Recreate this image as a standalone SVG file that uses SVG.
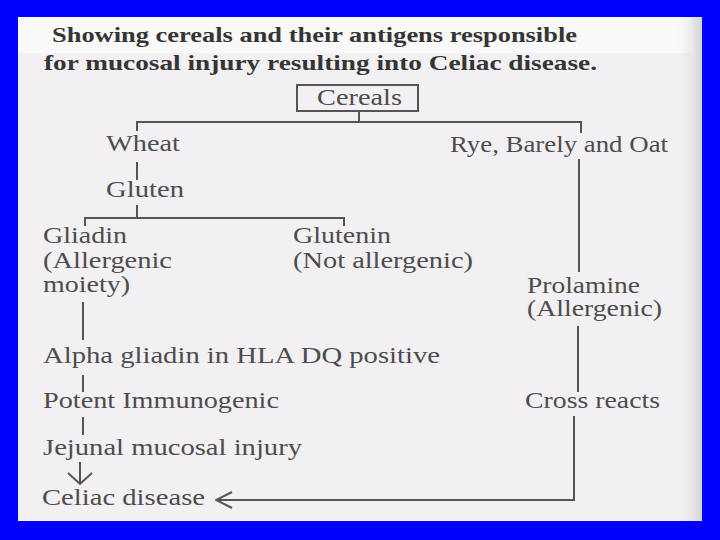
<svg xmlns="http://www.w3.org/2000/svg" width="720" height="540" viewBox="0 0 720 540">
<defs>
<linearGradient id="edge" x1="0" y1="0" x2="1" y2="0">
<stop offset="0" stop-color="#f2f0f3" stop-opacity="0"/>
<stop offset="1" stop-color="#d6d3d7"/>
</linearGradient>
<marker id="chev" viewBox="0 0 20 20" refX="19" refY="10" markerWidth="20" markerHeight="20" markerUnits="userSpaceOnUse" orient="auto">
<path d="M3,2 L19,10 L3,18" fill="none" stroke="#555" stroke-width="2"/>
</marker>
<marker id="chevD" viewBox="0 0 24 28" refX="22" refY="14" markerWidth="24" markerHeight="28" markerUnits="userSpaceOnUse" orient="auto">
<path d="M11,2 L22,14 L11,26" fill="none" stroke="#555" stroke-width="2"/>
</marker>
</defs>
<style>
text{font-family:"Liberation Serif","Times New Roman",serif;fill:#4d4d4d;font-size:23px}
.t{font-weight:bold;fill:#353535;font-size:22px}
.c{fill:none;stroke:#555;stroke-width:2}
</style>
<rect x="0" y="0" width="720" height="540" fill="#0000ff"/>
<rect x="18" y="17" width="684" height="504" fill="#f2f0f3"/>
<rect x="18" y="17" width="676" height="36" fill="#f9f9f9"/>
<rect x="676" y="17" width="26" height="504" fill="url(#edge)"/>
<g id="title">
<text class="t" x="52" y="42" textLength="525" lengthAdjust="spacingAndGlyphs">Showing cereals and their antigens responsible</text>
<text class="t" x="44" y="70" textLength="553" lengthAdjust="spacingAndGlyphs">for mucosal injury resulting into Celiac disease.</text>
</g>
<g id="connectors">
<path class="c" d="M359,111 V122 M137,131 V122 H581 V133"/>
<path class="c" d="M137,162 V180"/>
<path class="c" d="M137,205 V218 M85,226 V218 H344 V226"/>
<path class="c" d="M579,159 V272"/>
<path class="c" d="M578,326 V392"/>
<path class="c" d="M574,416 V500 H216" marker-end="url(#chev)"/>
<path class="c" d="M83,302 V340"/>
<path class="c" d="M83,375 V392"/>
<path class="c" d="M83,417 V435"/>
<path class="c" d="M80,462 V484" marker-end="url(#chevD)"/>
</g>
<g id="cereals">
<rect x="297" y="85" width="121" height="26" fill="none" stroke="#555" stroke-width="2"/>
<text x="317" y="105" textLength="85" lengthAdjust="spacingAndGlyphs">Cereals</text>
</g>
<g id="wheat"><text x="106" y="151" textLength="74" lengthAdjust="spacingAndGlyphs">Wheat</text></g>
<g id="gluten"><text x="106" y="197" textLength="78" lengthAdjust="spacingAndGlyphs">Gluten</text></g>
<g id="rye"><text x="450" y="152" textLength="218" lengthAdjust="spacingAndGlyphs">Rye, Barely and Oat</text></g>
<g id="gliadin">
<text x="43" y="243" textLength="84" lengthAdjust="spacingAndGlyphs">Gliadin</text>
<text x="43" y="268" textLength="129" lengthAdjust="spacingAndGlyphs">(Allergenic</text>
<text x="43" y="292" textLength="87" lengthAdjust="spacingAndGlyphs">moiety)</text>
</g>
<g id="glutenin">
<text x="293" y="243" textLength="98" lengthAdjust="spacingAndGlyphs">Glutenin</text>
<text x="293" y="268" textLength="180" lengthAdjust="spacingAndGlyphs">(Not allergenic)</text>
</g>
<g id="prolamine">
<text x="527" y="293" textLength="113" lengthAdjust="spacingAndGlyphs">Prolamine</text>
<text x="527" y="316" textLength="135" lengthAdjust="spacingAndGlyphs">(Allergenic)</text>
</g>
<g id="alpha"><text x="43" y="363" textLength="397" lengthAdjust="spacingAndGlyphs">Alpha gliadin in HLA DQ positive</text></g>
<g id="cross"><text x="525" y="408" textLength="135" lengthAdjust="spacingAndGlyphs">Cross reacts</text></g>
<g id="potent"><text x="43" y="408" textLength="236" lengthAdjust="spacingAndGlyphs">Potent Immunogenic</text></g>
<g id="jejunal"><text x="43" y="455" textLength="259" lengthAdjust="spacingAndGlyphs">Jejunal mucosal injury</text></g>
<g id="celiac"><text x="42" y="505" textLength="163" lengthAdjust="spacingAndGlyphs">Celiac disease</text></g>
</svg>
